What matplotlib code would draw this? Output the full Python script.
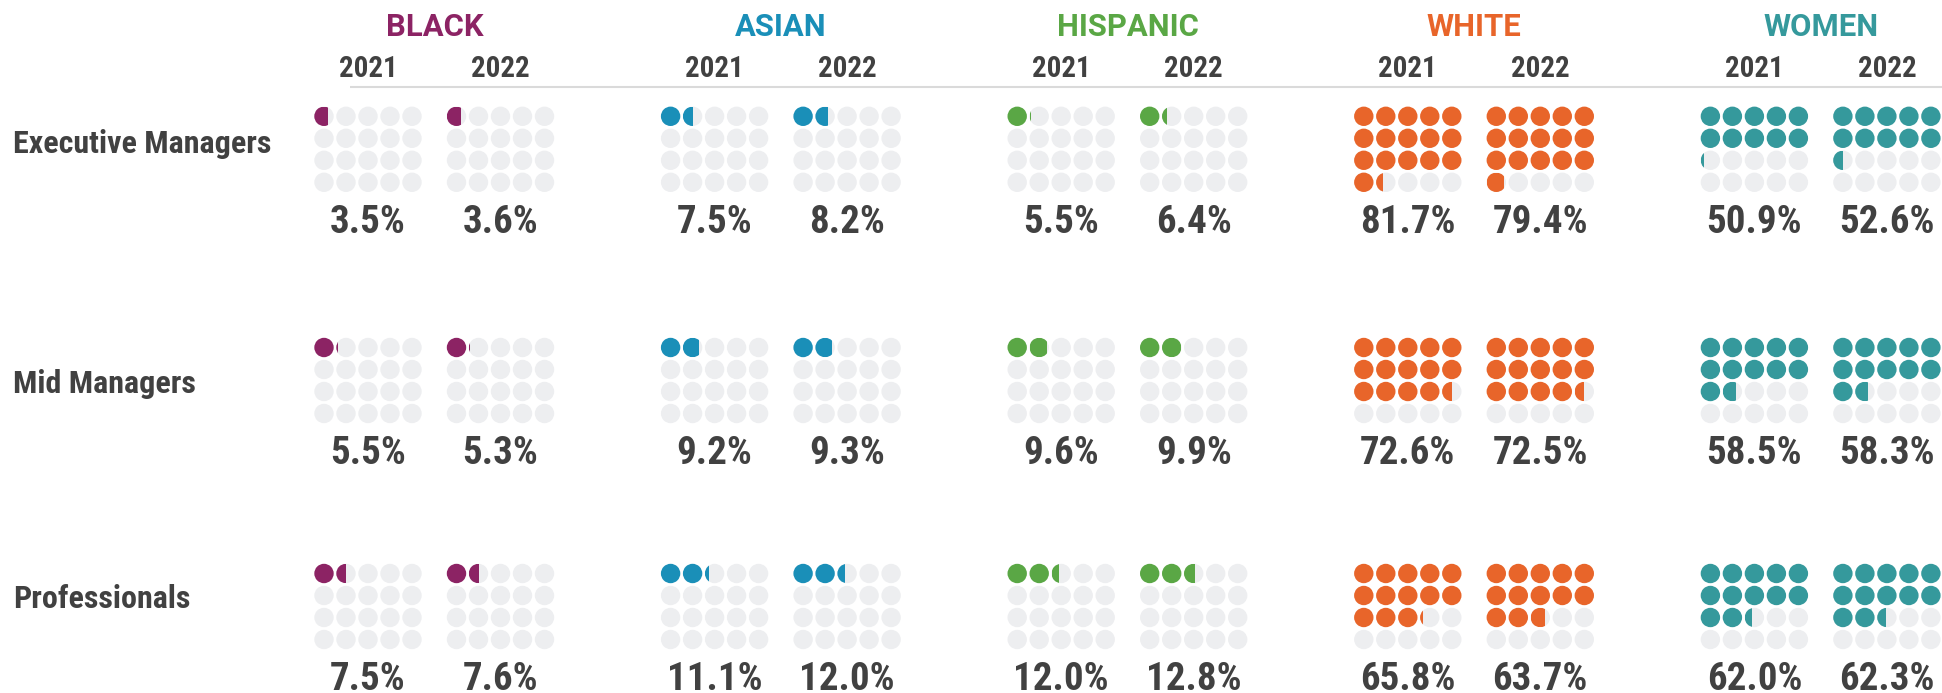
import matplotlib
matplotlib.use('Agg')
import matplotlib.pyplot as plt
from matplotlib.patches import Circle, Rectangle

# data
groups = ['BLACK', 'ASIAN', 'HISPANIC', 'WHITE', 'WOMEN']
years = ['2021', '2022']
levels = ['Executive Managers', 'Mid Managers', 'Professionals']

black_2021 = [3.5, 5.5, 7.5]
black_2022 = [3.6, 5.3, 7.6]
asian_2021 = [7.5, 9.2, 11.1]
asian_2022 = [8.2, 9.3, 12.0]
hispanic_2021 = [5.5, 9.6, 12.0]
hispanic_2022 = [6.4, 9.9, 12.8]
white_2021 = [81.7, 72.6, 65.8]
white_2022 = [79.4, 72.5, 63.7]
women_2021 = [50.9, 58.5, 62.0]
women_2022 = [52.6, 58.3, 62.3]

values = {
    'BLACK': [black_2021, black_2022],
    'ASIAN': [asian_2021, asian_2022],
    'HISPANIC': [hispanic_2021, hispanic_2022],
    'WHITE': [white_2021, white_2022],
    'WOMEN': [women_2021, women_2022],
}
colors = {'BLACK': '#8c2364', 'ASIAN': '#1a8fb8', 'HISPANIC': '#5aa745',
          'WHITE': '#e8652a', 'WOMEN': '#35999c'}
empty = '#edeef0'
txt = '#414141'

plt.rcParams['font.family'] = ['Roboto Condensed', 'Roboto', 'DejaVu Sans']

W, H = 1942, 693
fig = plt.figure(figsize=(W / 100, H / 100), dpi=100)
ax = fig.add_axes([0, 0, 1, 1])
ax.set_xlim(0, W)
ax.set_ylim(H, 0)
ax.axis('off')

# layout (pixels)
x0 = 324          # first dot center of first grid
gpitch = 346.6    # group spacing
ypitch = 132.5    # 2021 -> 2022 grid offset
dp = 22           # dot pitch
r = 9.7           # dot radius
row_y = [116.3, 347.5, 573.5]
label_y = [152.7, 392.7, 608.3]

def px(v):
    return v * 72 / 100

ax.plot([350, W], [86.7, 86.7], color='#dadada', lw=1.5, solid_capstyle='butt')

for g, grp in enumerate(groups):
    col = colors[grp]
    gx = x0 + g * gpitch
    cx_pair = [gx + 2 * dp, gx + ypitch + 2 * dp]
    ax.text(sum(cx_pair) / 2, 36, grp, color=col, fontsize=px(31),
            fontweight='bold', family=['Roboto', 'DejaVu Sans'],
            ha='center', va='baseline')
    for k, yr in enumerate(years):
        bx = gx + k * ypitch
        ax.text(bx + 2 * dp, 77.3, yr, color=txt, fontsize=px(29), fontweight='bold',
                ha='center', va='baseline')
        for li, lvl in enumerate(levels):
            v = values[grp][k][li]
            units = v / 5.0
            n_full = int(units)
            frac = units - n_full
            for i in range(20):
                cx = bx + (i % 5) * dp
                cy = row_y[li] + (i // 5) * dp
                if i < n_full:
                    ax.add_patch(Circle((cx, cy), r, color=col, lw=0))
                else:
                    ax.add_patch(Circle((cx, cy), r, color=empty, lw=0))
                    if i == n_full and frac > 0:
                        c = Circle((cx, cy), r, color=col, lw=0)
                        ax.add_patch(c)
                        clip = Rectangle((cx - r, cy - r), 2 * r * frac, 2 * r,
                                         transform=ax.transData)
                        c.set_clip_path(clip)
            ax.text(bx + 2 * dp, row_y[li] + 116.4, f'{v:.1f}%', color=txt,
                    fontsize=px(39), fontweight='bold', ha='center', va='baseline')

for li, lvl in enumerate(levels):
    ax.text(13, label_y[li], lvl, color=txt, fontsize=px(32), fontweight='bold',
            ha='left', va='baseline')

fig.savefig('out.png', dpi=100)
